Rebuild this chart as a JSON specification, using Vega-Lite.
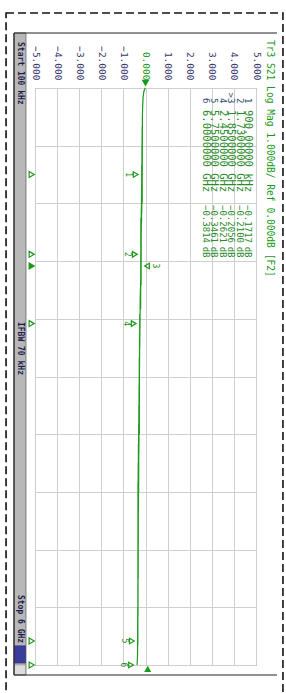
{
  "$schema": "https://vega.github.io/schema/vega-lite/v6.json",
  "width": 221,
  "height": 577,
  "autosize": "none",
  "padding": {"left": 35, "top": 88, "right": 30, "bottom": 28},
  "background": "white",
  "config": {
    "view": {"stroke": "#666666", "strokeWidth": 1},
    "font": "DejaVu Sans Mono",
    "axisX": {"labelOverlap": false, "labelFlush": false, "labelBound": false, "ticks": false, "domain": false},
    "axisY": {"labelOverlap": false, "labels": false, "ticks": false, "domain": false}
  },
  "datasets": {
    "trace": [
      {"freq": 0.0001, "s21": -0.01}, {"freq": 0.03, "s21": -0.07}, {"freq": 0.1, "s21": -0.11},
      {"freq": 0.2, "s21": -0.13}, {"freq": 0.3, "s21": -0.14}, {"freq": 0.4, "s21": -0.15},
      {"freq": 0.5, "s21": -0.15}, {"freq": 0.6, "s21": -0.16}, {"freq": 0.7, "s21": -0.16},
      {"freq": 0.8, "s21": -0.17}, {"freq": 0.9, "s21": -0.1717}, {"freq": 1.0, "s21": -0.17},
      {"freq": 1.1, "s21": -0.18}, {"freq": 1.15, "s21": -0.17}, {"freq": 1.2, "s21": -0.15},
      {"freq": 1.25, "s21": -0.19}, {"freq": 1.3, "s21": -0.17}, {"freq": 1.35, "s21": -0.21},
      {"freq": 1.4, "s21": -0.18}, {"freq": 1.5, "s21": -0.19}, {"freq": 1.6, "s21": -0.2},
      {"freq": 1.7, "s21": -0.21}, {"freq": 1.73, "s21": -0.21}, {"freq": 1.8, "s21": -0.2},
      {"freq": 1.85, "s21": -0.2056}, {"freq": 1.9, "s21": -0.21}, {"freq": 2.0, "s21": -0.22},
      {"freq": 2.05, "s21": -0.2}, {"freq": 2.1, "s21": -0.23}, {"freq": 2.2, "s21": -0.24},
      {"freq": 2.3, "s21": -0.22}, {"freq": 2.35, "s21": -0.26}, {"freq": 2.4, "s21": -0.25},
      {"freq": 2.45, "s21": -0.2621}, {"freq": 2.5, "s21": -0.25}, {"freq": 2.6, "s21": -0.27},
      {"freq": 2.7, "s21": -0.26}, {"freq": 2.8, "s21": -0.28}, {"freq": 2.9, "s21": -0.27},
      {"freq": 3.0, "s21": -0.28}, {"freq": 3.1, "s21": -0.29}, {"freq": 3.2, "s21": -0.28},
      {"freq": 3.3, "s21": -0.3}, {"freq": 3.4, "s21": -0.29}, {"freq": 3.5, "s21": -0.31},
      {"freq": 3.6, "s21": -0.28}, {"freq": 3.7, "s21": -0.32}, {"freq": 3.8, "s21": -0.3},
      {"freq": 3.9, "s21": -0.33}, {"freq": 4.0, "s21": -0.31}, {"freq": 4.1, "s21": -0.34},
      {"freq": 4.2, "s21": -0.31}, {"freq": 4.3, "s21": -0.33}, {"freq": 4.4, "s21": -0.32},
      {"freq": 4.5, "s21": -0.34}, {"freq": 4.6, "s21": -0.33}, {"freq": 4.7, "s21": -0.33},
      {"freq": 4.8, "s21": -0.34}, {"freq": 4.9, "s21": -0.33}, {"freq": 5.0, "s21": -0.34},
      {"freq": 5.1, "s21": -0.33}, {"freq": 5.2, "s21": -0.34}, {"freq": 5.3, "s21": -0.34},
      {"freq": 5.4, "s21": -0.35}, {"freq": 5.5, "s21": -0.34}, {"freq": 5.6, "s21": -0.35},
      {"freq": 5.7, "s21": -0.35}, {"freq": 5.75, "s21": -0.3461}, {"freq": 5.8, "s21": -0.35},
      {"freq": 5.9, "s21": -0.36}, {"freq": 5.95, "s21": -0.37}, {"freq": 6.0, "s21": -0.3814}
    ],
    "markers": [
      {"marker": 1, "name": "1", "freq": 0.9, "freqLabel": "900.00000 kHz", "value": -0.1717},
      {"marker": 2, "name": "2", "freq": 1.73, "freqLabel": "1.7300000 GHz", "value": -0.21},
      {"marker": 3, "name": ">3", "freq": 1.85, "freqLabel": "1.8500000 GHz", "value": -0.2056},
      {"marker": 4, "name": "4", "freq": 2.45, "freqLabel": "2.4500000 GHz", "value": -0.2621},
      {"marker": 5, "name": "5", "freq": 5.75, "freqLabel": "5.7500000 GHz", "value": -0.3461},
      {"marker": 6, "name": "6", "freq": 6.0, "freqLabel": "6.0000000 GHz", "value": -0.3814}
    ],
    "frame": [{"label": "frame"}],
    "stim": [
      {"text": "Start 100 kHz", "pos": -0.478},
      {"text": "IFBW 70 kHz", "pos": 2.433},
      {"text": "Stop 6 GHz", "pos": 5.272}
    ]
  },
  "resolve": {"scale": {"x": "independent"}},
  "layer": [
    {
      "layer": [
        {
          "data": {"name": "trace"},
          "mark": {"type": "line", "color": "#1a9a1a", "strokeWidth": 1.2},
          "encoding": {
            "x": {"field": "s21", "type": "quantitative", "title": null,
              "scale": {"domain": [-5, 5], "nice": false, "zero": false},
              "axis": {"orient": "top", "values": [-5, -4, -3, -2, -1, 0, 1, 2, 3, 4, 5], "tickCount": 11, "format": ".3f",
                "labelAngle": 90, "labelAlign": "right", "labelBaseline": "middle", "labelPadding": 8,
                "grid": true, "gridColor": "#cfcfcf", "gridWidth": 1,
                "labelFont": "DejaVu Sans Mono", "labelFontSize": 9.5, "labelOverlap": false,
                "labelColor": {"condition": {"test": "datum.value == 0", "value": "#1a9a1a"}, "value": "#34346a"}}},
            "y": {"field": "freq", "type": "quantitative", "title": null,
              "scale": {"domain": [0, 6], "nice": false, "zero": false, "reverse": true},
              "axis": {"values": [0, 0.6, 1.2, 1.8, 2.4, 3.0, 3.6, 4.2, 4.8, 5.4, 6.0], "tickCount": 11, "grid": true, "gridColor": "#cfcfcf"}}
          }
        },
        {
          "data": {"name": "frame"},
          "mark": {"type": "rect", "fill": null, "stroke": "#111111", "strokeWidth": 1.6, "strokeDash": [8, 4]},
          "encoding": {"x": {"datum": -6.31}, "x2": {"datum": 6.22}, "y": {"datum": -0.78}, "y2": {"datum": 6.6}}
        },
        {
          "data": {"name": "frame"},
          "mark": {"type": "rect", "fill": "#b8b8b8", "stroke": "#7a7a7a", "strokeWidth": 1},
          "encoding": {"x": {"datum": -5.95}, "x2": {"datum": -5.41}, "y": {"datum": -0.572}, "y2": {"datum": 6.104}}
        },
        {
          "data": {"name": "frame"},
          "mark": {"type": "rect", "fill": "#3c3c9c", "stroke": "#22226a", "strokeWidth": 0.5},
          "encoding": {"x": {"datum": -5.93}, "x2": {"datum": -5.43}, "y": {"datum": 5.8}, "y2": {"datum": 5.98}}
        },
        {
          "data": {"name": "frame"},
          "mark": {"type": "rect", "fill": "#dddddd", "stroke": "#888888", "strokeWidth": 0.5},
          "encoding": {"x": {"datum": -5.93}, "x2": {"datum": -5.43}, "y": {"datum": 6.0}, "y2": {"datum": 6.1}}
        },
        {
          "data": {"name": "frame"},
          "mark": {"type": "rule", "stroke": "#222222", "strokeWidth": 1.2},
          "encoding": {"x": {"datum": -5.95}, "x2": {"datum": 5.95}, "y": {"datum": -0.572}}
        },
        {
          "data": {"name": "frame"},
          "mark": {"type": "rule", "stroke": "#222222", "strokeWidth": 1.2},
          "encoding": {"x": {"datum": -5.95}, "x2": {"datum": 5.95}, "y": {"datum": 6.104}}
        },
        {
          "data": {"name": "frame"},
          "mark": {"type": "rule", "stroke": "#222222", "strokeWidth": 1.2},
          "encoding": {"x": {"datum": -5.95}, "y": {"datum": -0.572}, "y2": {"datum": 6.104}}
        },
        {
          "data": {"name": "stim"},
          "mark": {"type": "text", "angle": 90, "align": "left", "baseline": "middle", "fontSize": 8, "fontWeight": "bold", "color": "#1c1c4c"},
          "encoding": {"x": {"datum": -5.68}, "y": {"field": "pos", "type": "quantitative"}, "text": {"field": "text"}}
        },
        {
          "data": {"name": "frame"},
          "mark": {"type": "text", "angle": 90, "align": "left", "baseline": "middle", "fontSize": 9.6, "color": "#1a9a1a"},
          "encoding": {"x": {"datum": 5.63}, "y": {"datum": -0.5}, "text": {"value": "Tr3 S21 Log Mag 1.000dB/ Ref 0.000dB [F2]"}}
        },
        {
          "data": {"name": "frame"},
          "mark": {"type": "point", "shape": "triangle-down", "filled": true, "color": "#1a9a1a", "size": 60, "opacity": 1},
          "encoding": {"x": {"datum": 0}, "y": {"datum": -0.05}}
        },
        {
          "data": {"name": "frame"},
          "mark": {"type": "point", "shape": "triangle-up", "filled": true, "color": "#1a9a1a", "size": 50, "opacity": 1},
          "encoding": {"x": {"datum": 0.1}, "y": {"datum": 6.04}}
        },
        {
          "data": {"name": "markers"},
          "transform": [{"filter": "datum.marker != 3"}],
          "mark": {"type": "point", "shape": "triangle-right", "filled": false, "color": "#1a9a1a", "size": 30, "strokeWidth": 1.2, "opacity": 1, "xOffset": -6},
          "encoding": {"x": {"field": "value", "type": "quantitative"}, "y": {"field": "freq", "type": "quantitative"}}
        },
        {
          "data": {"name": "markers"},
          "transform": [{"filter": "datum.marker != 3"}],
          "mark": {"type": "text", "angle": 90, "align": "center", "baseline": "middle", "fontSize": 8, "color": "#1a8a1a", "xOffset": -14},
          "encoding": {"x": {"field": "value", "type": "quantitative"}, "y": {"field": "freq", "type": "quantitative"}, "text": {"field": "marker", "type": "nominal"}}
        },
        {
          "data": {"name": "markers"},
          "transform": [{"filter": "datum.marker == 3"}],
          "mark": {"type": "point", "shape": "triangle-left", "filled": false, "color": "#1a9a1a", "size": 30, "strokeWidth": 1.2, "opacity": 1, "xOffset": 6},
          "encoding": {"x": {"field": "value", "type": "quantitative"}, "y": {"field": "freq", "type": "quantitative"}}
        },
        {
          "data": {"name": "markers"},
          "transform": [{"filter": "datum.marker == 3"}],
          "mark": {"type": "text", "angle": 90, "align": "center", "baseline": "middle", "fontSize": 8, "color": "#1a8a1a", "xOffset": 14},
          "encoding": {"x": {"field": "value", "type": "quantitative"}, "y": {"field": "freq", "type": "quantitative"}, "text": {"field": "marker", "type": "nominal"}}
        },
        {
          "data": {"name": "markers"},
          "mark": {"type": "point", "shape": "triangle-right", "color": "#1a9a1a", "size": 35, "strokeWidth": 1.2, "opacity": 1},
          "encoding": {
            "x": {"datum": -5.15},
            "y": {"field": "freq", "type": "quantitative"},
            "fill": {"condition": {"test": "datum.marker == 3", "value": "#1a9a1a"}, "value": "white"}
          }
        }
      ]
    },
    {
      "data": {"name": "markers"},
      "layer": [
        {
          "mark": {"type": "text", "angle": 90, "align": "right", "baseline": "middle", "fontSize": 9, "color": "#2d4d6d"},
          "encoding": {
            "x": {"field": "marker", "type": "quantitative", "scale": {"domain": [26.36, 0.048], "nice": false, "zero": false}, "axis": null},
            "y": {"datum": 0.16},
            "text": {"field": "name"}
          }
        },
        {
          "mark": {"type": "text", "angle": 90, "align": "left", "baseline": "middle", "fontSize": 10.5, "color": "#2a8a2a"},
          "encoding": {"x": {"field": "marker", "type": "quantitative"}, "y": {"datum": 0.229}, "text": {"field": "freqLabel"}}
        },
        {
          "mark": {"type": "text", "angle": 90, "align": "left", "baseline": "middle", "fontSize": 9, "color": "#2a8a2a"},
          "encoding": {"x": {"field": "marker", "type": "quantitative"}, "y": {"datum": 1.217}, "text": {"field": "value", "type": "quantitative", "format": ".4f"}}
        },
        {
          "mark": {"type": "text", "angle": 90, "align": "left", "baseline": "middle", "fontSize": 9, "color": "#2a8a2a"},
          "encoding": {"x": {"field": "marker", "type": "quantitative"}, "y": {"datum": 1.65}, "text": {"value": "dB"}}
        }
      ]
    }
  ]
}
